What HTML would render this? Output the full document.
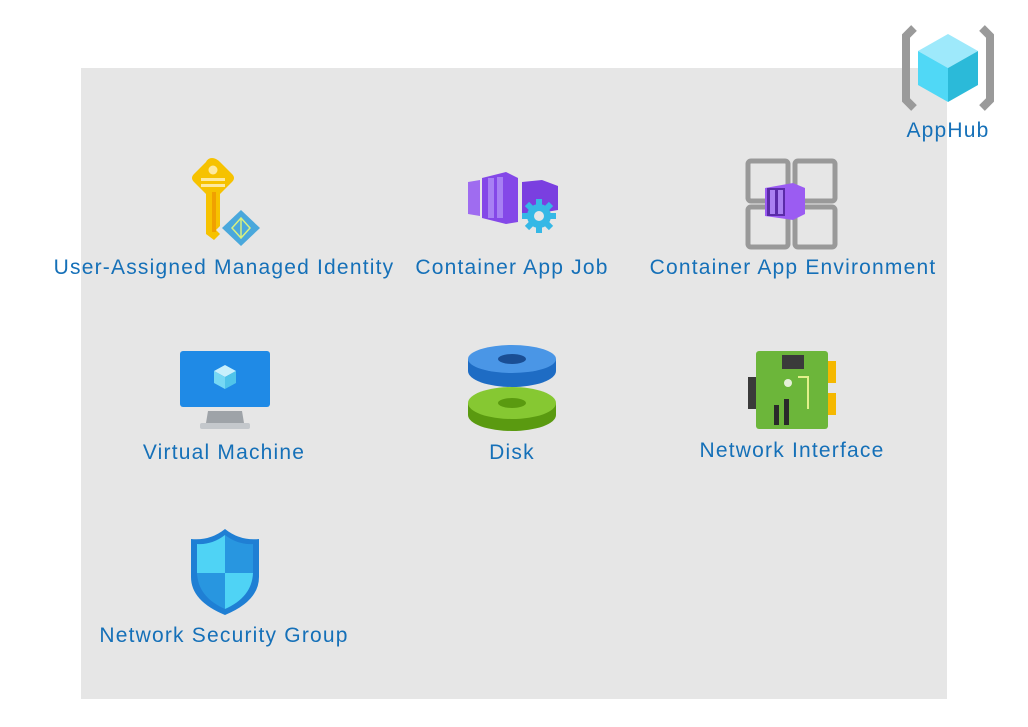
<!DOCTYPE html>
<html><head><meta charset="utf-8"><style>
body{margin:0;width:1028px;height:727px;background:#fff;position:relative;overflow:hidden;font-family:"Liberation Sans",sans-serif}
.box{position:absolute;left:81px;top:68px;width:866px;height:631px;background:#e6e6e6}
.l{position:absolute;color:#1570b8;font-size:21px;letter-spacing:1.2px;white-space:nowrap;transform:translateX(-50%);line-height:24px}
svg{position:absolute}
</style></head><body>
<div class="box"></div>

<!-- AppHub -->
<svg style="left:900px;top:22px" width="96" height="92" viewBox="0 0 96 92">
<path d="M14 6 L6 14 L6 78 L14 86" stroke="#9a9a9a" stroke-width="8" fill="none"/>
<path d="M82 6 L90 14 L90 78 L82 86" stroke="#9a9a9a" stroke-width="8" fill="none"/>
<polygon points="48,12 78,29 48,46 18,29" fill="#9ee9fb"/>
<polygon points="18,29 48,46 48,80 18,63" fill="#50d8f6"/>
<polygon points="78,29 48,46 48,80 78,63" fill="#2bbad9"/>
</svg>
<div class="l" style="left:948px;top:119px">AppHub</div>

<!-- Identity -->
<svg style="left:186px;top:156px" width="80" height="90" viewBox="0 0 80 90">
<path d="M26 2 Q30 2 34 6 L46 18 Q50 22 46 26 L34 38 L34 70 L30 74 L34 78 L28 84 L20 78 L20 38 L8 26 Q4 22 8 18 L20 6 Q22 2 26 2 Z" fill="#f6c200"/>
<rect x="26" y="36" width="4" height="40" fill="#f0a000"/>
<circle cx="27" cy="14" r="4.5" fill="#fde9a0"/>
<rect x="15" y="22" width="24" height="3" fill="#fde9a0"/><rect x="15" y="28" width="24" height="3" fill="#fde9a0"/>
<polygon points="55,54 74,72 55,90 36,72" fill="#4aa8dc"/>
<path d="M55 62 L46 72 L55 82 L64 72 Z M55 62 L55 82" stroke="#d8f080" stroke-width="1.5" fill="none"/>
</svg>
<div class="l" style="left:224px;top:256px">User-Assigned Managed Identity</div>

<!-- Container App Job -->
<svg style="left:466px;top:170px" width="96" height="66" viewBox="0 0 96 66">
<polygon points="2,12 14,10 14,46 2,44" fill="#9f6cf0"/>
<polygon points="16,8 40,2 52,8 52,52 40,54 16,48" fill="#8448e8"/>
<rect x="22" y="8" width="6" height="40" fill="#a780f4"/><rect x="31" y="7" width="6" height="41" fill="#a780f4"/>
<polygon points="56,12 76,10 92,16 92,40 56,46" fill="#7a3fe0"/>
<g fill="#35b8e6"><circle cx="73" cy="46" r="12"/><rect x="70" y="29" width="6" height="34"/><rect x="56" y="43" width="34" height="6"/><rect x="70" y="29" width="6" height="34" transform="rotate(45 73 46)"/><rect x="70" y="29" width="6" height="34" transform="rotate(-45 73 46)"/></g>
<circle cx="73" cy="46" r="5" fill="#e6e6e6"/>
</svg>
<div class="l" style="left:512px;top:256px">Container App Job</div>

<!-- Container App Environment -->
<svg style="left:745px;top:158px" width="94" height="92" viewBox="0 0 94 92">
<g fill="none" stroke="#999" stroke-width="5"><rect x="3" y="3" width="40" height="40" rx="3"/><rect x="50" y="3" width="40" height="40" rx="3"/><rect x="3" y="49" width="40" height="40" rx="3"/><rect x="50" y="49" width="40" height="40" rx="3"/></g>
<polygon points="20,30 48,25 60,30 60,56 48,62 20,58" fill="#9b5cf2"/>
<rect x="22" y="30" width="18" height="28" fill="#5a2ba8"/><rect x="25" y="32" width="5" height="24" fill="#a980f2"/><rect x="33" y="32" width="5" height="24" fill="#a980f2"/>
</svg>
<div class="l" style="left:793px;top:256px">Container App Environment</div>

<!-- VM -->
<svg style="left:178px;top:349px" width="94" height="84" viewBox="0 0 94 84">
<rect x="2" y="2" width="90" height="56" rx="3" fill="#1f8ae6"/>
<polygon points="30,62 64,62 66,74 28,74" fill="#9ea3a8"/>
<rect x="22" y="74" width="50" height="6" rx="2" fill="#c4c8cc"/>
<polygon points="47,16 58,22 47,28 36,22" fill="#c8f0fc"/><polygon points="36,22 47,28 47,40 36,34" fill="#76d8f4"/><polygon points="58,22 47,28 47,40 58,34" fill="#50c4ea"/>
</svg>
<div class="l" style="left:224px;top:441px">Virtual Machine</div>

<!-- Disk -->
<svg style="left:466px;top:343px" width="92" height="90" viewBox="0 0 92 90">
<path d="M2 60 L2 72 A44 16 0 0 0 90 72 L90 60 Z" fill="#5a9a10"/>
<ellipse cx="46" cy="60" rx="44" ry="16" fill="#86c832"/><ellipse cx="46" cy="60" rx="14" ry="5" fill="#5a9a10"/>
<path d="M2 16 L2 28 A44 16 0 0 0 90 28 L90 16 Z" fill="#1e6cc4"/>
<ellipse cx="46" cy="16" rx="44" ry="14" fill="#4a96e6"/><ellipse cx="46" cy="16" rx="14" ry="5" fill="#1a4e94"/>
</svg>
<div class="l" style="left:512px;top:441px">Disk</div>

<!-- NIC -->
<svg style="left:748px;top:349px" width="90" height="82" viewBox="0 0 90 82">
<rect x="0" y="28" width="8" height="32" fill="#3a3a3a"/>
<rect x="8" y="2" width="72" height="78" rx="3" fill="#6cb63a"/>
<rect x="80" y="12" width="8" height="22" fill="#f5b800"/><rect x="80" y="44" width="8" height="22" fill="#f5b800"/>
<rect x="34" y="6" width="22" height="14" fill="#3a3a3a"/>
<rect x="26" y="56" width="5" height="20" fill="#2a2a2a"/><rect x="36" y="50" width="5" height="26" fill="#2a2a2a"/>
<circle cx="40" cy="34" r="4" fill="#e6f0d8"/>
<path d="M50 28 L60 28 L60 60" stroke="#e2f08a" stroke-width="2" fill="none"/>
</svg>
<div class="l" style="left:792px;top:439px">Network Interface</div>

<!-- NSG -->
<svg style="left:188px;top:527px" width="74" height="90" viewBox="0 0 74 90">
<path d="M37 2 Q22 14 3 12 L3 50 Q3 74 37 88 Q71 74 71 50 L71 12 Q52 14 37 2 Z" fill="#1f7fd4"/>
<path d="M37 8 Q24 18 9 17 L9 46 L37 46 Z" fill="#4fd3f5"/>
<path d="M37 46 L65 46 Q64 70 37 82 Z" fill="#4fd3f5"/>
<path d="M37 8 Q50 18 65 17 L65 46 L37 46 Z" fill="#2896e0"/>
<path d="M37 46 L9 46 Q10 70 37 82 Z" fill="#2896e0"/>
</svg>
<div class="l" style="left:224px;top:624px">Network Security Group</div>
</body></html>
